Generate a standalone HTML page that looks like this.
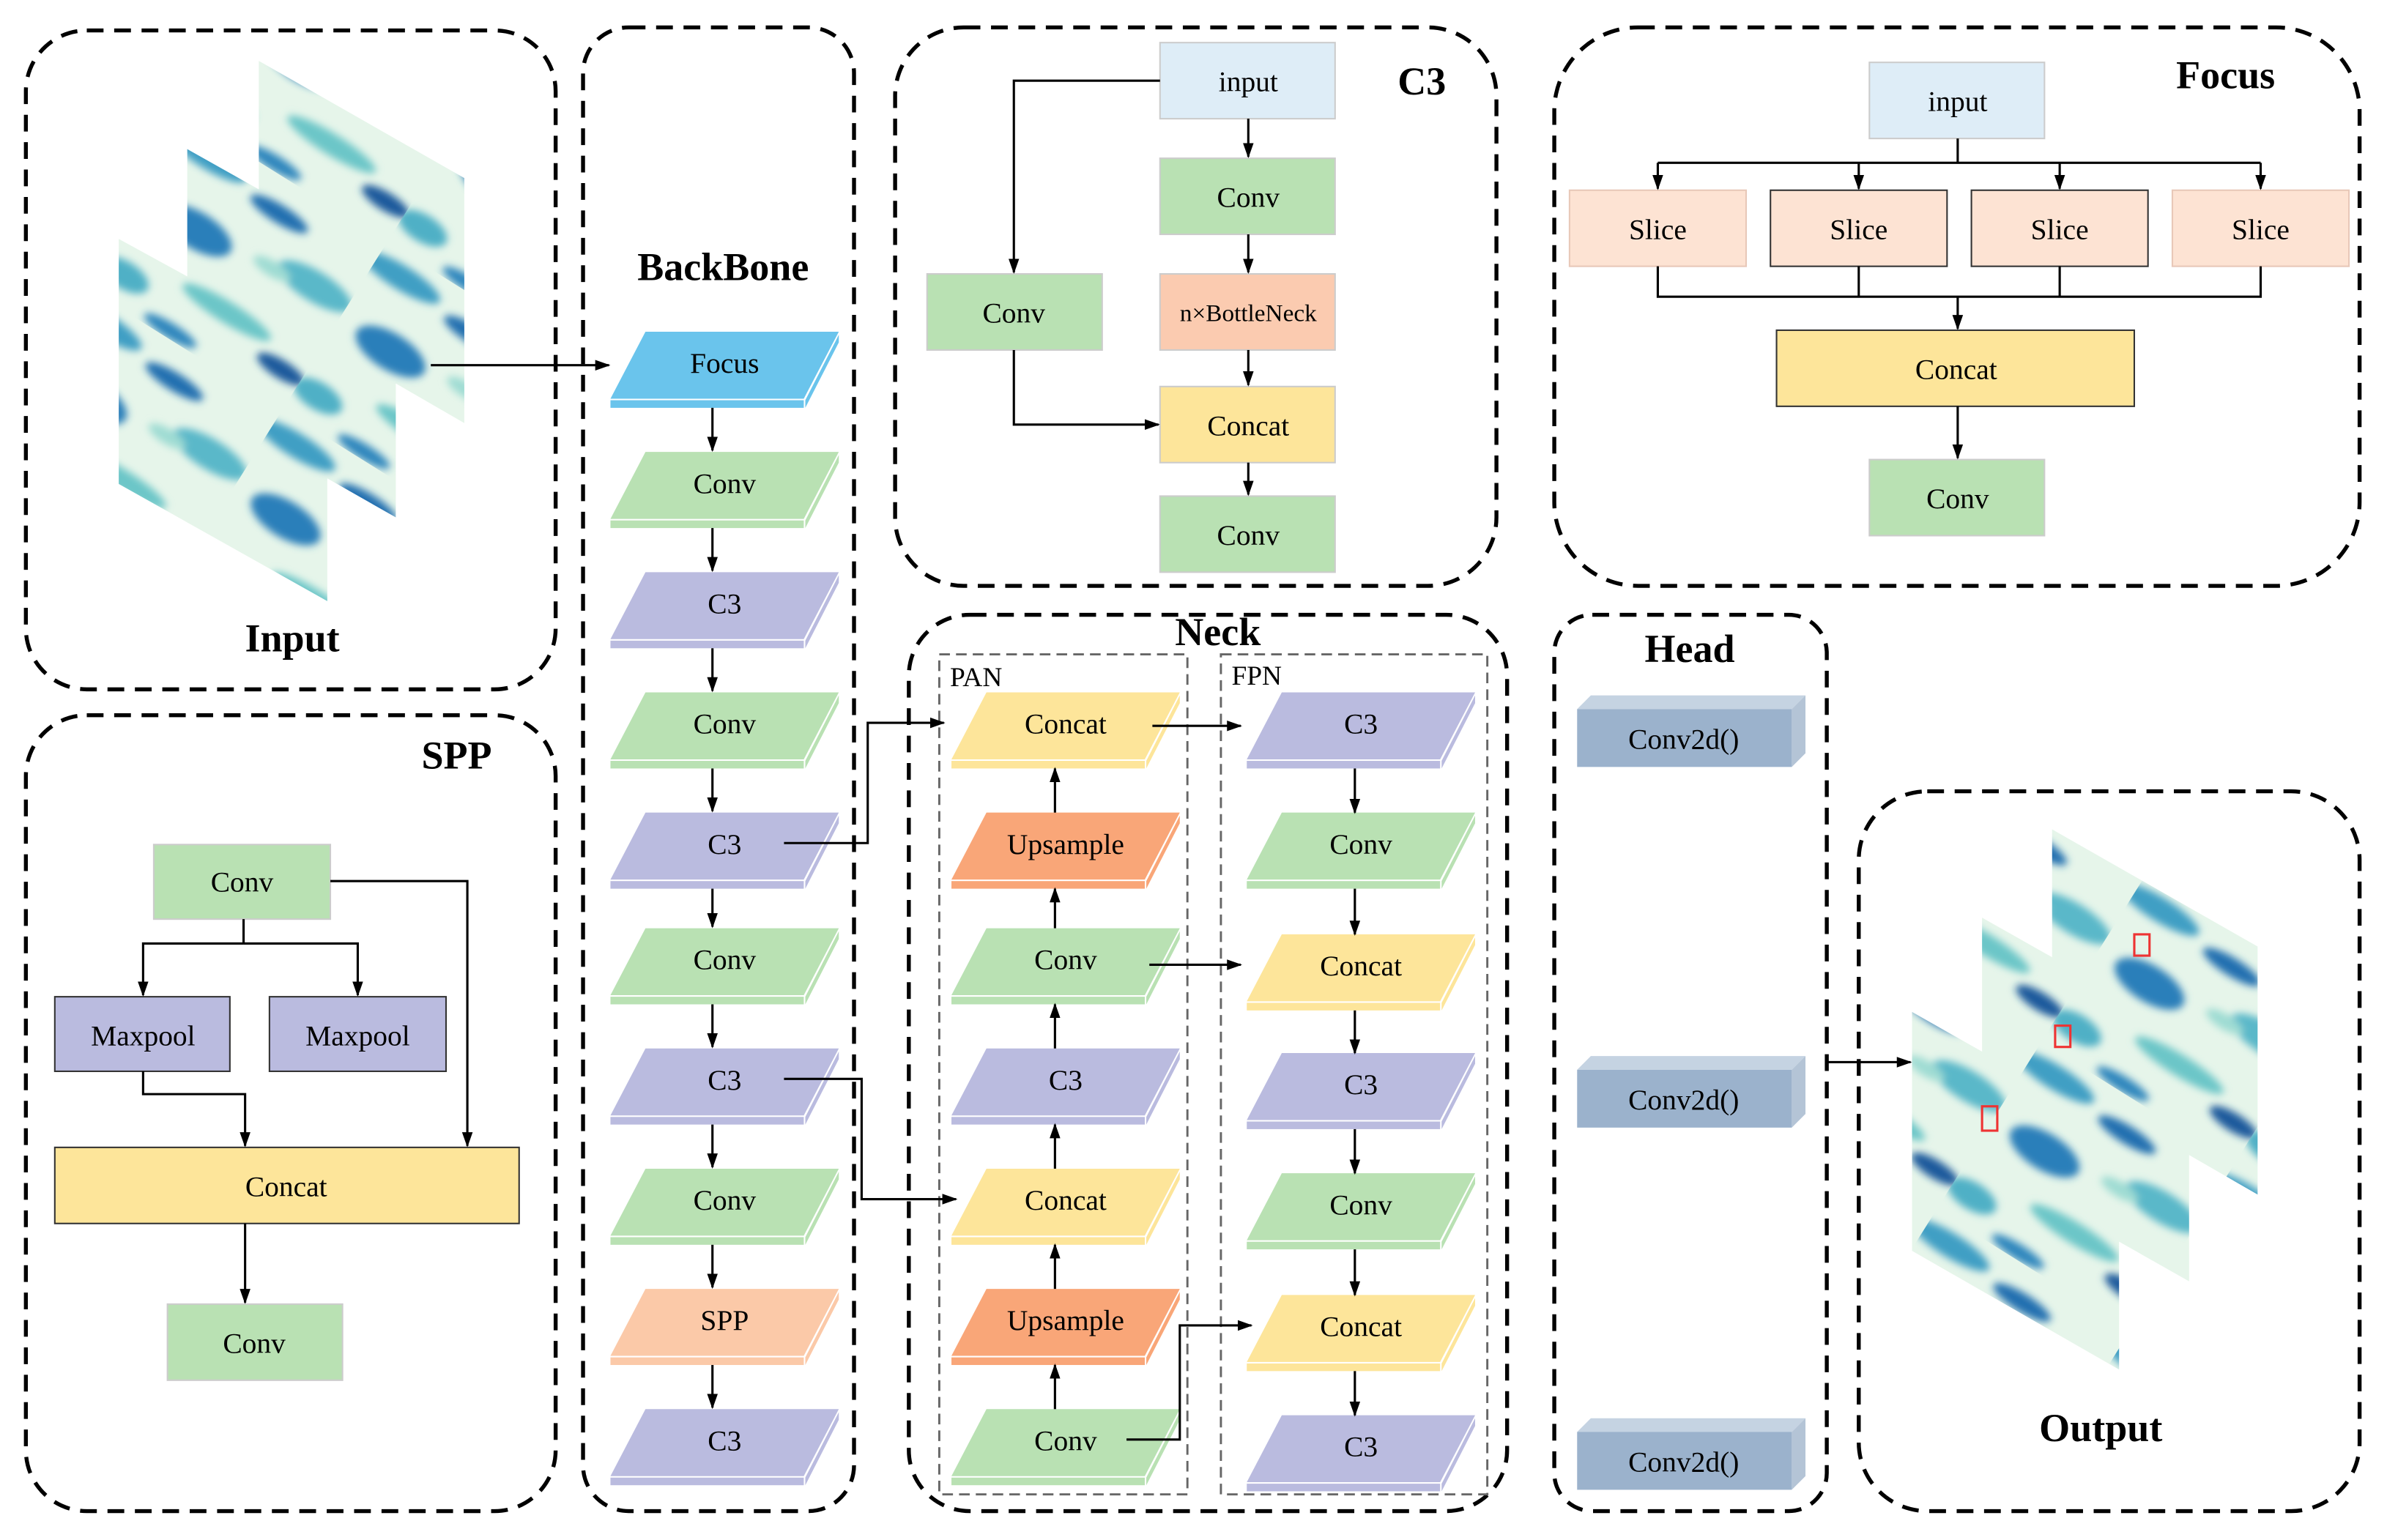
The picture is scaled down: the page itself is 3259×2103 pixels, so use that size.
<!DOCTYPE html>
<html><head><meta charset="utf-8"><style>
html,body{margin:0;padding:0;background:#fff}
svg{display:block}
text{font-family:"Liberation Serif",serif;font-size:19px;text-anchor:middle;fill:#000}
.t{font-size:26px;font-weight:bold}
.s{font-size:18px;text-anchor:start}
.db{fill:none;stroke:#000;stroke-width:2.6;stroke-dasharray:11 7}
.dg{fill:none;stroke:#666;stroke-width:1.4;stroke-dasharray:7 4}
.ln{fill:none;stroke:#000;stroke-width:1.5}
.fo{fill:#6ac4ec}.cv{fill:#b9e1b3}.c3{fill:#babbdf}.sp{fill:#fbc9a8}.up{fill:#f9a678}.cc{fill:#fde59a}
</style></head><body>
<svg width="3259" height="2103" viewBox="0 0 1568 1012" preserveAspectRatio="none" xmlns="http://www.w3.org/2000/svg">
<defs>
<marker id="a" markerWidth="10" markerHeight="10" refX="9" refY="5" orient="auto" markerUnits="userSpaceOnUse"><path d="M0,1.5 L10,5 L0,8.5z" fill="#000"/></marker>
<filter id="bl" x="-20%" y="-20%" width="140%" height="140%"><feGaussianBlur stdDeviation="2.5"/></filter>
<pattern id="sat" width="150" height="130" patternUnits="userSpaceOnUse" patternTransform="rotate(32)">
<rect width="150" height="130" fill="#e6f5ea"/>
<g filter="url(#bl)">
<ellipse cx="20" cy="15" rx="30" ry="8" fill="#3f9fc4"/>
<ellipse cx="80" cy="22" rx="22" ry="6" fill="#2070b0"/>
<ellipse cx="125" cy="50" rx="28" ry="10" fill="#5ab8c9"/>
<ellipse cx="40" cy="60" rx="26" ry="12" fill="#2a7fba"/>
<ellipse cx="85" cy="95" rx="34" ry="7" fill="#6cc6c8"/>
<ellipse cx="135" cy="108" rx="18" ry="6" fill="#1a5a9c"/>
<ellipse cx="15" cy="110" rx="18" ry="9" fill="#4fb0c6"/>
<ellipse cx="95" cy="55" rx="14" ry="5" fill="#9fdcd3"/>
<ellipse cx="60" cy="125" rx="20" ry="5" fill="#2f86bd"/>
</g>
</pattern>
</defs>

<rect class="db" x="17" y="20" width="348" height="433" rx="40"/>
<rect class="db" x="17" y="470" width="348" height="523" rx="40"/>
<rect class="db" x="383" y="18" width="178" height="975" rx="30"/>
<rect class="db" x="588" y="18" width="395" height="367" rx="45"/>
<rect class="db" x="1021" y="18" width="529" height="367" rx="55"/>
<rect class="db" x="597" y="404" width="393" height="589" rx="40"/>
<rect class="db" x="1021" y="404" width="179" height="589" rx="25"/>
<rect class="db" x="1221" y="520" width="329" height="473" rx="45"/>
<rect class="dg" x="617" y="430" width="163" height="552"/>
<rect class="dg" x="802" y="430" width="175" height="552"/>

<text class="t" x="192" y="428">Input</text>
<text class="t" x="300" y="505">SPP</text>
<text class="t" x="475" y="184">BackBone</text>
<text class="t" x="934" y="62">C3</text>
<text class="t" x="1462" y="58">Focus</text>
<text class="t" x="800" y="424">Neck</text>
<text class="t" x="1110" y="435">Head</text>
<text class="t" x="1380" y="947">Output</text>
<text class="s" x="624" y="451">PAN</text>
<text class="s" x="809" y="450">FPN</text>

<g stroke="none">
<polygon fill="url(#sat)" points="170,40 305,117 305,278 170,200"/>
<polygon fill="url(#sat)" points="123,98 260,175 260,340 123,262"/>
<polygon fill="url(#sat)" points="78,157 215,232 215,395 78,318"/>
<polygon fill="url(#sat)" points="1348,545 1483,622 1483,785 1348,707"/>
<polygon fill="url(#sat)" points="1302,603 1438,680 1438,842 1302,765"/>
<polygon fill="url(#sat)" points="1256,665 1392,742 1392,900 1256,822"/>
</g>
<rect x="1402" y="614" width="10" height="14" fill="none" stroke="#e33" stroke-width="1.5"/>
<rect x="1350" y="674" width="10" height="14" fill="none" stroke="#e33" stroke-width="1.5"/>
<rect x="1302" y="727" width="10" height="16" fill="none" stroke="#e33" stroke-width="1.5"/>
<line class="ln" x1="283" y1="240" x2="400" y2="240" marker-end="url(#a)"/>

<g transform="translate(476,238)"><polygon class="fo" points="-52,-20 75,-20 52,24 -75,24"/><rect class="fo" x="-75" y="25" width="127" height="5"/><polygon class="fo" points="53,25 75,-18 75,-13 53,30"/><text y="7">Focus</text></g>
<g transform="translate(476,317)"><polygon class="cv" points="-52,-20 75,-20 52,24 -75,24"/><rect class="cv" x="-75" y="25" width="127" height="5"/><polygon class="cv" points="53,25 75,-18 75,-13 53,30"/><text y="7">Conv</text></g>
<g transform="translate(476,396)"><polygon class="c3" points="-52,-20 75,-20 52,24 -75,24"/><rect class="c3" x="-75" y="25" width="127" height="5"/><polygon class="c3" points="53,25 75,-18 75,-13 53,30"/><text y="7">C3</text></g>
<g transform="translate(476,475)"><polygon class="cv" points="-52,-20 75,-20 52,24 -75,24"/><rect class="cv" x="-75" y="25" width="127" height="5"/><polygon class="cv" points="53,25 75,-18 75,-13 53,30"/><text y="7">Conv</text></g>
<g transform="translate(476,554)"><polygon class="c3" points="-52,-20 75,-20 52,24 -75,24"/><rect class="c3" x="-75" y="25" width="127" height="5"/><polygon class="c3" points="53,25 75,-18 75,-13 53,30"/><text y="7">C3</text></g>
<g transform="translate(476,630)"><polygon class="cv" points="-52,-20 75,-20 52,24 -75,24"/><rect class="cv" x="-75" y="25" width="127" height="5"/><polygon class="cv" points="53,25 75,-18 75,-13 53,30"/><text y="7">Conv</text></g>
<g transform="translate(476,709)"><polygon class="c3" points="-52,-20 75,-20 52,24 -75,24"/><rect class="c3" x="-75" y="25" width="127" height="5"/><polygon class="c3" points="53,25 75,-18 75,-13 53,30"/><text y="7">C3</text></g>
<g transform="translate(476,788)"><polygon class="cv" points="-52,-20 75,-20 52,24 -75,24"/><rect class="cv" x="-75" y="25" width="127" height="5"/><polygon class="cv" points="53,25 75,-18 75,-13 53,30"/><text y="7">Conv</text></g>
<g transform="translate(476,867)"><polygon class="sp" points="-52,-20 75,-20 52,24 -75,24"/><rect class="sp" x="-75" y="25" width="127" height="5"/><polygon class="sp" points="53,25 75,-18 75,-13 53,30"/><text y="7">SPP</text></g>
<g transform="translate(476,946)"><polygon class="c3" points="-52,-20 75,-20 52,24 -75,24"/><rect class="c3" x="-75" y="25" width="127" height="5"/><polygon class="c3" points="53,25 75,-18 75,-13 53,30"/><text y="7">C3</text></g>
<g class="ln" marker-end="url(#a)">
<line x1="468" y1="268" x2="468" y2="296"/><line x1="468" y1="347" x2="468" y2="375"/><line x1="468" y1="426" x2="468" y2="454"/><line x1="468" y1="505" x2="468" y2="533"/><line x1="468" y1="584" x2="468" y2="609"/><line x1="468" y1="660" x2="468" y2="688"/><line x1="468" y1="739" x2="468" y2="767"/><line x1="468" y1="818" x2="468" y2="846"/><line x1="468" y1="897" x2="468" y2="925"/>
</g>

<g transform="translate(700,475)"><polygon class="cc" points="-52,-20 75,-20 52,24 -75,24"/><rect class="cc" x="-75" y="25" width="127" height="5"/><polygon class="cc" points="53,25 75,-18 75,-13 53,30"/><text y="7">Concat</text></g>
<g transform="translate(700,554)"><polygon class="up" points="-52,-20 75,-20 52,24 -75,24"/><rect class="up" x="-75" y="25" width="127" height="5"/><polygon class="up" points="53,25 75,-18 75,-13 53,30"/><text y="7">Upsample</text></g>
<g transform="translate(700,630)"><polygon class="cv" points="-52,-20 75,-20 52,24 -75,24"/><rect class="cv" x="-75" y="25" width="127" height="5"/><polygon class="cv" points="53,25 75,-18 75,-13 53,30"/><text y="7">Conv</text></g>
<g transform="translate(700,709)"><polygon class="c3" points="-52,-20 75,-20 52,24 -75,24"/><rect class="c3" x="-75" y="25" width="127" height="5"/><polygon class="c3" points="53,25 75,-18 75,-13 53,30"/><text y="7">C3</text></g>
<g transform="translate(700,788)"><polygon class="cc" points="-52,-20 75,-20 52,24 -75,24"/><rect class="cc" x="-75" y="25" width="127" height="5"/><polygon class="cc" points="53,25 75,-18 75,-13 53,30"/><text y="7">Concat</text></g>
<g transform="translate(700,867)"><polygon class="up" points="-52,-20 75,-20 52,24 -75,24"/><rect class="up" x="-75" y="25" width="127" height="5"/><polygon class="up" points="53,25 75,-18 75,-13 53,30"/><text y="7">Upsample</text></g>
<g transform="translate(700,946)"><polygon class="cv" points="-52,-20 75,-20 52,24 -75,24"/><rect class="cv" x="-75" y="25" width="127" height="5"/><polygon class="cv" points="53,25 75,-18 75,-13 53,30"/><text y="7">Conv</text></g>
<g transform="translate(894,475)"><polygon class="c3" points="-52,-20 75,-20 52,24 -75,24"/><rect class="c3" x="-75" y="25" width="127" height="5"/><polygon class="c3" points="53,25 75,-18 75,-13 53,30"/><text y="7">C3</text></g>
<g transform="translate(894,554)"><polygon class="cv" points="-52,-20 75,-20 52,24 -75,24"/><rect class="cv" x="-75" y="25" width="127" height="5"/><polygon class="cv" points="53,25 75,-18 75,-13 53,30"/><text y="7">Conv</text></g>
<g transform="translate(894,634)"><polygon class="cc" points="-52,-20 75,-20 52,24 -75,24"/><rect class="cc" x="-75" y="25" width="127" height="5"/><polygon class="cc" points="53,25 75,-18 75,-13 53,30"/><text y="7">Concat</text></g>
<g transform="translate(894,712)"><polygon class="c3" points="-52,-20 75,-20 52,24 -75,24"/><rect class="c3" x="-75" y="25" width="127" height="5"/><polygon class="c3" points="53,25 75,-18 75,-13 53,30"/><text y="7">C3</text></g>
<g transform="translate(894,791)"><polygon class="cv" points="-52,-20 75,-20 52,24 -75,24"/><rect class="cv" x="-75" y="25" width="127" height="5"/><polygon class="cv" points="53,25 75,-18 75,-13 53,30"/><text y="7">Conv</text></g>
<g transform="translate(894,871)"><polygon class="cc" points="-52,-20 75,-20 52,24 -75,24"/><rect class="cc" x="-75" y="25" width="127" height="5"/><polygon class="cc" points="53,25 75,-18 75,-13 53,30"/><text y="7">Concat</text></g>
<g transform="translate(894,950)"><polygon class="c3" points="-52,-20 75,-20 52,24 -75,24"/><rect class="c3" x="-75" y="25" width="127" height="5"/><polygon class="c3" points="53,25 75,-18 75,-13 53,30"/><text y="7">C3</text></g>
<g class="ln" marker-end="url(#a)">
<line x1="693" y1="534" x2="693" y2="505"/><line x1="693" y1="610" x2="693" y2="584"/><line x1="693" y1="689" x2="693" y2="660"/><line x1="693" y1="768" x2="693" y2="739"/><line x1="693" y1="847" x2="693" y2="818"/><line x1="693" y1="926" x2="693" y2="897"/>
<line x1="890" y1="505" x2="890" y2="534"/><line x1="890" y1="584" x2="890" y2="614"/><line x1="890" y1="664" x2="890" y2="692"/><line x1="890" y1="742" x2="890" y2="771"/><line x1="890" y1="821" x2="890" y2="851"/><line x1="890" y1="901" x2="890" y2="930"/>
<path d="M515,554 H570 V475 H620"/>
<path d="M515,709 H566 V788 H628"/>
<line x1="757" y1="477" x2="815" y2="477"/>
<line x1="755" y1="634" x2="815" y2="634"/>
<path d="M740,946 H775 V871 H822"/>
</g>

<g stroke="#ccc" stroke-width="1">
<rect x="762" y="28" width="115" height="50" fill="#deedf7"/>
<rect x="762" y="104" width="115" height="50" class="cv"/>
<rect x="762" y="180" width="115" height="50" fill="#fbcbb0"/>
<rect x="762" y="254" width="115" height="50" class="cc"/>
<rect x="762" y="326" width="115" height="50" class="cv"/>
<rect x="609" y="180" width="115" height="50" class="cv"/>
</g>
<text x="820" y="60">input</text>
<text x="820" y="136">Conv</text>
<text x="820" y="211" style="font-size:16px">n×BottleNeck</text>
<text x="820" y="286">Concat</text>
<text x="820" y="358">Conv</text>
<text x="666" y="212">Conv</text>
<g class="ln" marker-end="url(#a)">
<line x1="820" y1="78" x2="820" y2="103"/><line x1="820" y1="154" x2="820" y2="179"/><line x1="820" y1="230" x2="820" y2="253"/><line x1="820" y1="304" x2="820" y2="325"/>
<path d="M762,53 H666 V179"/><path d="M666,230 V279 H761"/>
</g>

<rect x="1228" y="41" width="115" height="50" fill="#deedf7" stroke="#ccc"/>
<text x="1286" y="73">input</text>
<g stroke="#333" stroke-width="1" fill="#fde3d3">
<rect x="1031" y="125" width="116" height="50" stroke="#e8c8b8"/>
<rect x="1163" y="125" width="116" height="50"/>
<rect x="1295" y="125" width="116" height="50"/>
<rect x="1427" y="125" width="116" height="50" stroke="#e8c8b8"/>
</g>
<text x="1089" y="157">Slice</text><text x="1221" y="157">Slice</text><text x="1353" y="157">Slice</text><text x="1485" y="157">Slice</text>
<rect x="1167" y="217" width="235" height="50" class="cc" stroke="#333"/>
<text x="1285" y="249">Concat</text>
<rect x="1228" y="302" width="115" height="50" class="cv" stroke="#ccc"/>
<text x="1286" y="334">Conv</text>
<path class="ln" d="M1286,91 V107 M1089,107 H1485 M1089,175 V195 H1485 V175 M1221,175 V195 M1353,175 V195"/>
<g class="ln" marker-end="url(#a)">
<line x1="1089" y1="107" x2="1089" y2="124"/><line x1="1221" y1="107" x2="1221" y2="124"/><line x1="1353" y1="107" x2="1353" y2="124"/><line x1="1485" y1="107" x2="1485" y2="124"/>
<line x1="1286" y1="195" x2="1286" y2="216"/><line x1="1286" y1="267" x2="1286" y2="301"/>
</g>

<rect x="101" y="555" width="116" height="49" class="cv" stroke="#ccc"/>
<text x="159" y="586">Conv</text>
<rect x="36" y="655" width="115" height="49" class="c3" stroke="#333"/>
<text x="94" y="687">Maxpool</text>
<rect x="177" y="655" width="116" height="49" class="c3" stroke="#333"/>
<text x="235" y="687">Maxpool</text>
<rect x="36" y="754" width="305" height="50" class="cc" stroke="#333"/>
<text x="188" y="786">Concat</text>
<rect x="110" y="857" width="115" height="50" class="cv" stroke="#ccc"/>
<text x="167" y="889">Conv</text>
<path class="ln" d="M160,604 V620"/>
<g class="ln" marker-end="url(#a)">
<path d="M160,620 H94 V654"/><path d="M160,620 H235 V654"/>
<path d="M217,579 H307 V753"/><path d="M94,704 V719 H161 V753"/>
<line x1="161" y1="804" x2="161" y2="856"/>
</g>

<g>
<polygon points="1036,466 1045,457 1186,457 1177,466" fill="#c5d3e2"/>
<polygon points="1177,466 1186,457 1186,495 1177,504" fill="#b4c4d6"/>
<rect x="1036" y="466" width="141" height="38" fill="#9bb2cc"/>
<text x="1106" y="492">Conv2d()</text>
<polygon points="1036,703 1045,694 1186,694 1177,703" fill="#c5d3e2"/>
<polygon points="1177,703 1186,694 1186,732 1177,741" fill="#b4c4d6"/>
<rect x="1036" y="703" width="141" height="38" fill="#9bb2cc"/>
<text x="1106" y="729">Conv2d()</text>
<polygon points="1036,941 1045,932 1186,932 1177,941" fill="#c5d3e2"/>
<polygon points="1177,941 1186,932 1186,970 1177,979" fill="#b4c4d6"/>
<rect x="1036" y="941" width="141" height="38" fill="#9bb2cc"/>
<text x="1106" y="967">Conv2d()</text>
</g>
<line class="ln" x1="1200" y1="698" x2="1255" y2="698" marker-end="url(#a)"/>
</svg>
</body></html>
